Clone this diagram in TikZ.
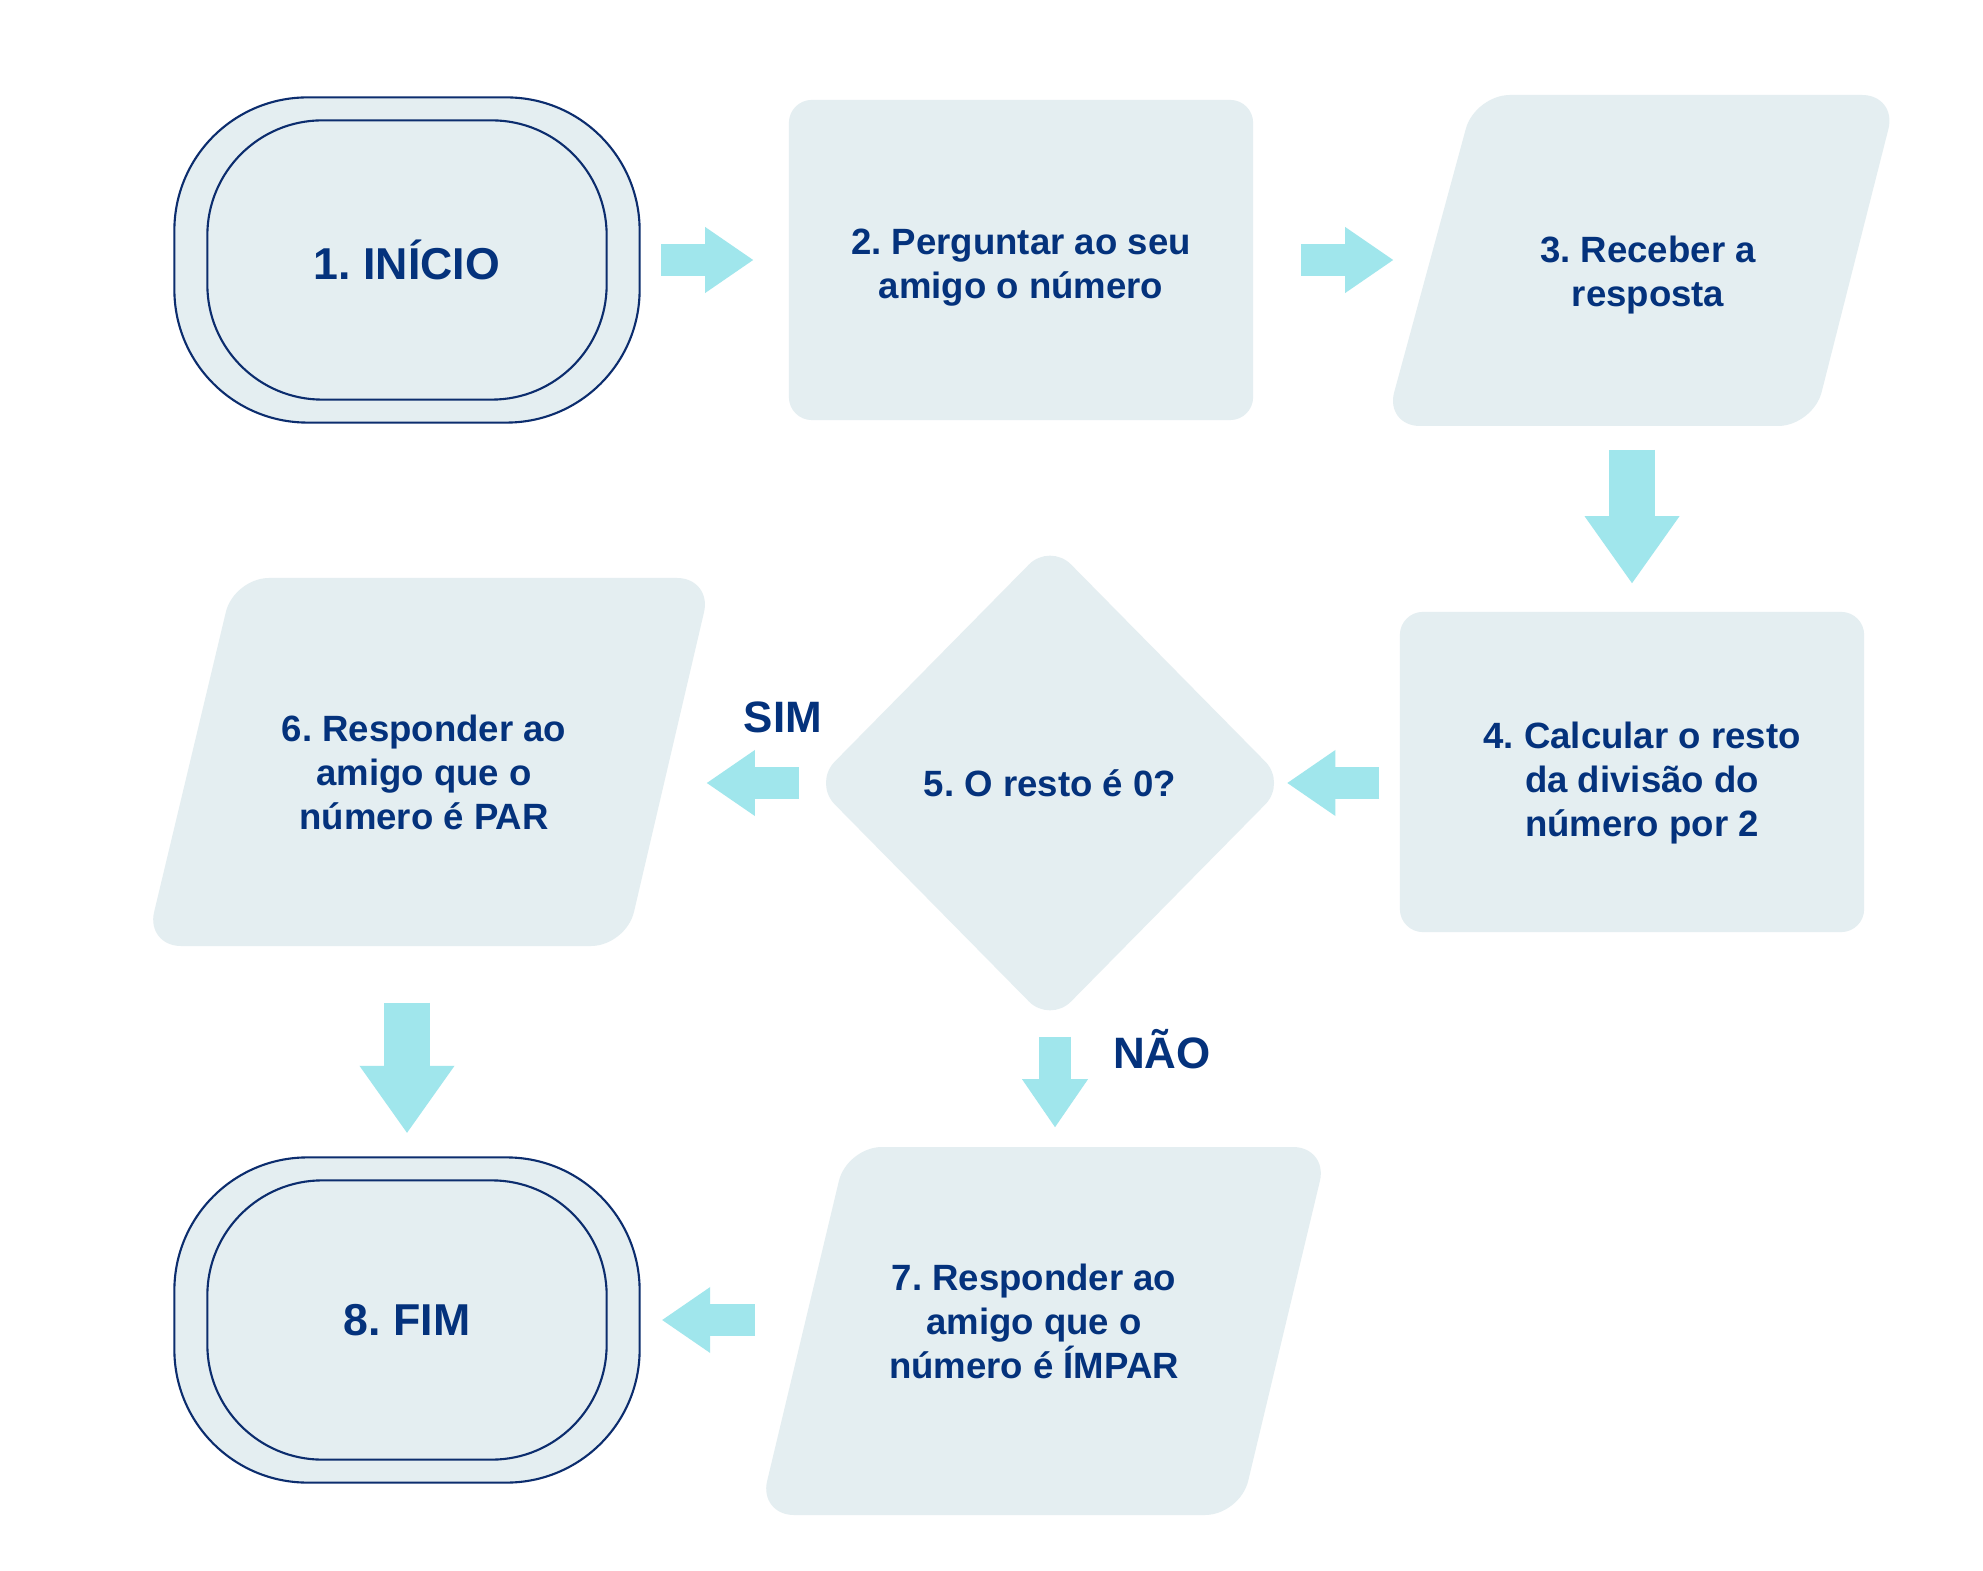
\documentclass[tikz,border=0pt]{standalone}
\usepackage{fontspec}
\setmainfont{Liberation Sans}
\frenchspacing
\usetikzlibrary{shapes.geometric,arrows.meta}
\definecolor{navytext}{RGB}{4,50,124}
\definecolor{navyline}{RGB}{12,45,110}
\definecolor{boxfill}{RGB}{228,238,241}
\definecolor{arrowcyan}{RGB}{160,230,236}
\tikzset{
  stepfont/.style={font=\bfseries\fontsize{10.4}{12.5}\selectfont, text=navytext, align=center},
  terminal/.style={stepfont, font=\bfseries\fontsize{12.7}{15}\selectfont, fill=boxfill, draw=navyline,
    line width=0.6pt, rounded corners=1.33cm, minimum width=4.65cm, minimum height=3.25cm, inner sep=0pt},
  ring/.style={draw=navyline, line width=0.6pt, rounded corners=1.15cm},
  process/.style={fill=boxfill, rounded corners=0.23cm, minimum width=4.64cm, minimum height=3.2cm},
  decision/.style={stepfont, diamond, fill=boxfill, rounded corners=0.3cm,
    minimum width=4.73cm, minimum height=4.8cm, inner sep=0pt},
  iotext/.style={stepfont, minimum width=4.8cm, minimum height=3.68cm, inner sep=0pt},
  iofill/.style={fill=boxfill, rounded corners=0.35cm},
  answer/.style={font=\bfseries\fontsize{12.5}{15}\selectfont, text=navytext},
  flow/.style={draw=arrowcyan, line width=0.32cm, -{Triangle[length=0.48cm, width=0.66cm, line width=0pt]}},
  bigflow/.style={draw=arrowcyan, line width=0.46cm, -{Triangle[length=0.67cm, width=0.95cm, line width=0pt]}},
}
\begin{document}
\begin{tikzpicture}[x=0.01cm, y=-0.01cm]
  \path[fill=white] (0,0) rectangle (1983,1571);
  \node[terminal] (inicio) at (407,260) {1. INÍCIO};
  \draw[ring] ([xshift=0.34cm,yshift=-0.24cm]inicio.north west) rectangle ([xshift=-0.34cm,yshift=0.24cm]inicio.south east);
  \node[process] (pergunta) at (1021,260) {};
  \node[stepfont] (perguntatxt) at ([yshift=-0.076cm]pergunta.center) {2. Perguntar ao seu\\amigo o número};
  \fill[iofill] (1475,95) -- (1897,95) -- (1813,426) -- (1385,426) -- cycle;
  \node[iotext, minimum width=4.3cm, minimum height=3.31cm] (resposta) at (1648,275) {3. Receber a\\resposta};
  \node[process] (resto) at (1632,772) {};
  \node[stepfont] (restotxt) at ([xshift=0.1cm,yshift=-0.11cm]resto.center) {4. Calcular o resto\\da divisão do\\número por 2};
  \node[decision] (teste) at (1050,783) {5. O resto é 0?};
  \fill[iofill] (234,578) -- (712,578) -- (626,946) -- (146,946) -- cycle;
  \node[iotext] (par) at (424,772) {6. Responder ao\\amigo que o\\número é PAR};
  \fill[iofill] (847,1147) -- (1328,1147) -- (1240,1515) -- (759,1515) -- cycle;
  \node[iotext] (impar) at (1034,1321) {7. Responder ao\\amigo que o\\número é ÍMPAR};
  \node[terminal] (fim) at (407,1320) {8. FIM};
  \draw[ring] ([xshift=0.34cm,yshift=-0.24cm]fim.north west) rectangle ([xshift=-0.34cm,yshift=0.24cm]fim.south east);
  \node[answer] (sim) at (783,717) {SIM};
  \node[answer] (nao) at (1162,1049) {NÃO};

  \draw[flow, shorten <=0.205cm, shorten >=0.35cm] (inicio.east) -- (pergunta.west);
  \draw[flow, shorten <=0.47cm, shorten >=0.39cm] (pergunta.east) -- (pergunta.east -| resposta.west);
  \draw[bigflow, shorten <=0.085cm, shorten >=0.28cm] (resposta.south -| resto.north) -- (resto.north);
  \draw[flow, shorten <=0.2cm] (resto.west |- teste.east) -- (teste.east);
  \draw[flow, shorten <=0.14cm, shorten >=0.42cm] (teste.west) -- (teste.west -| par.east);
  \draw[bigflow, shorten <=0.46cm, shorten >=0.235cm] (par.south -| fim.north) -- (fim.north);
  \draw[flow, shorten <=0.13cm, shorten >=0.09cm] ([xshift=0.05cm]teste.south) -- ([xshift=0.05cm]teste.south |- impar.north);
  \draw[flow, shorten <=0.385cm, shorten >=0.215cm] (impar.west |- fim.east) -- (fim.east);
\end{tikzpicture}
\end{document}
